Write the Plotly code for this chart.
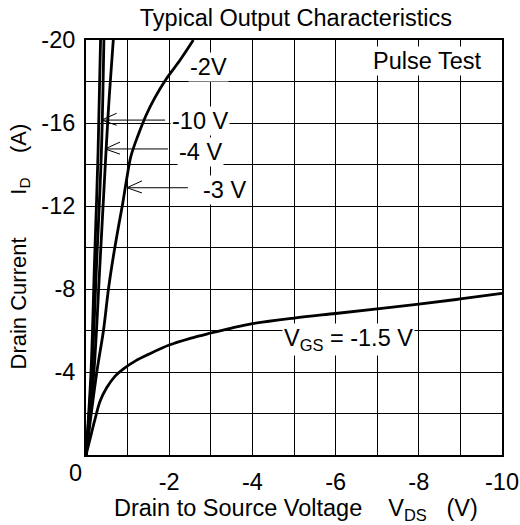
import plotly.graph_objects as go

# Output characteristics (VDS in V, ID in A)
vds_10 = [0, -0.12, -0.20, -0.29, -0.35]
id_10 = [0, -4, -9, -14.6, -20]

vds_4 = [0, -0.14, -0.25, -0.37, -0.43]
id_4 = [0, -4, -9, -14.6, -20]

vds_3 = [0, -0.19, -0.33, -0.48, -0.56, -0.656]
id_3 = [0, -4, -9, -14.6, -17.3, -20]

vds_2 = [0, -0.26, -0.42, -0.54, -0.66, -0.78, -0.88, -0.97, -1.08, -1.25, -1.45, -1.65, -1.92, -2.25, -2.58]
id_2 = [0, -4, -6, -8, -9.6, -11, -12.1, -13.2, -14.4, -15.4, -16.4, -17.2, -18.1, -19, -20]

vds_15 = [0, -0.1, -0.22, -0.34, -0.5, -0.7, -0.9, -1.2, -1.5, -2, -2.5, -3, -3.5, -4, -5, -6, -7, -8, -9, -10]
id_15 = [0, -0.8, -1.75, -2.6, -3.25, -3.8, -4.15, -4.55, -4.85, -5.3, -5.62, -5.88, -6.12, -6.33, -6.6, -6.82, -7.04, -7.27, -7.52, -7.79]

x_ticks = [-2, -4, -6, -8, -10]
x_ticktext = ["-2", "-4", "-6", "-8", "-10"]
x_minor = [-1, -3, -5, -7, -9]
y_ticks = [-4, -8, -12, -16, -20]
y_ticktext = ["-4", "-8", "-12", "-16", "-20"]
y_minor = [-2, -6, -10, -14, -18]

FONT = "Liberation Sans, Arial, Helvetica, sans-serif"
FS = 23.5

fig = go.Figure()
curves = [
    (vds_10, id_10, "-10 V"),
    (vds_4, id_4, "-4 V"),
    (vds_3, id_3, "-3 V"),
    (vds_2, id_2, "-2 V"),
    (vds_15, id_15, "-1.5 V"),
]
for xs, ys, nm in curves:
    fig.add_trace(go.Scatter(
        x=xs, y=ys, mode="lines", name=nm,
        line=dict(color="black", width=2.8, shape="spline", smoothing=1.0),
        showlegend=False, hoverinfo="skip"))

# arrows: (tail_x, tip_x, y)
arrows = [(-1.90, -0.377, -16.14), (-1.97, -0.457, -14.75), (-2.45, -0.985, -12.88)]
shapes = []
for tail, tip, yy in arrows:
    path = (f"M {tail},{yy} L {tip},{yy} "
            f"M {tip - 0.36},{yy - 0.33} L {tip},{yy} L {tip - 0.36},{yy + 0.25}")
    shapes.append(dict(type="path", xref="x", yref="y", path=path,
                       line=dict(color="black", width=1)))

labels = [
    ("-2V", -2.94, -18.7),
    ("-10 V", -2.75, -16.1),
    ("-4 V", -2.75, -14.58),
    ("-3 V", -3.32, -12.77),
    ("Pulse Test", -8.2, -19.0),
    ("V<sub>GS</sub> = -1.5 V", -6.3, -5.55),
]
annotations = []
for txt, xx, yy in labels:
    annotations.append(dict(text=txt, x=xx, y=yy, xref="x", yref="y", showarrow=False,
                            font=dict(family=FONT, size=FS, color="black"),
                            bgcolor="white", borderpad=1))
annotations.append(dict(text="0", x=0, y=0, xref="x", yref="y", showarrow=False,
                        xshift=-11, yshift=-18,
                        font=dict(family=FONT, size=FS, color="black")))
# axis titles
annotations.append(dict(
    text="Drain to Source Voltage&nbsp;&nbsp;&nbsp;&nbsp;V<sub>DS</sub>&nbsp;&nbsp;&nbsp;(V)",
    x=0.5, y=0, xref="paper", yref="paper", xanchor="center", yanchor="middle",
    xshift=2, yshift=-54, showarrow=False,
    font=dict(family=FONT, size=FS, color="black")))
annotations.append(dict(
    text="Drain Current&nbsp;&nbsp;&nbsp;&nbsp;&nbsp;&nbsp;&nbsp;I<sub>D</sub>&nbsp;&nbsp;&nbsp;&nbsp;(A)",
    x=0, y=0.5, xref="paper", yref="paper", xanchor="center", yanchor="middle",
    xshift=-67, yshift=1, textangle=-90, showarrow=False,
    font=dict(family=FONT, size=FS - 1.5, color="black")))

fig.update_layout(
    width=520, height=525,
    margin=dict(l=86, r=18, t=40, b=70),
    paper_bgcolor="white", plot_bgcolor="white",
    font=dict(family=FONT, size=FS, color="black"),
    title=dict(text="Typical Output Characteristics", x=0.569, xanchor="center",
               xref="container", yref="container",
               y=1 - 17.5 / 525, yanchor="middle", font=dict(family=FONT, size=FS, color="black")),
    shapes=shapes,
    annotations=annotations,
    xaxis=dict(range=[0, -10], tickvals=x_ticks, ticktext=x_ticktext,
               showgrid=True, gridcolor="black", gridwidth=1,
               minor=dict(tickvals=x_minor, showgrid=True, gridcolor="black", gridwidth=1),
               showline=True, mirror=True, linecolor="black", linewidth=2,
               zeroline=False, ticks="", ticklabelstandoff=5, automargin=False),
    yaxis=dict(range=[0, -20], tickvals=y_ticks, ticktext=y_ticktext,
               showgrid=True, gridcolor="black", gridwidth=1,
               minor=dict(tickvals=y_minor, showgrid=True, gridcolor="black", gridwidth=1),
               showline=True, mirror=True, linecolor="black", linewidth=2,
               zeroline=False, ticks="", ticklabelstandoff=4, automargin=False),
)

fig.write_html("out.html", config={"displayModeBar": False},
               post_script="document.body.style.margin='0';")
